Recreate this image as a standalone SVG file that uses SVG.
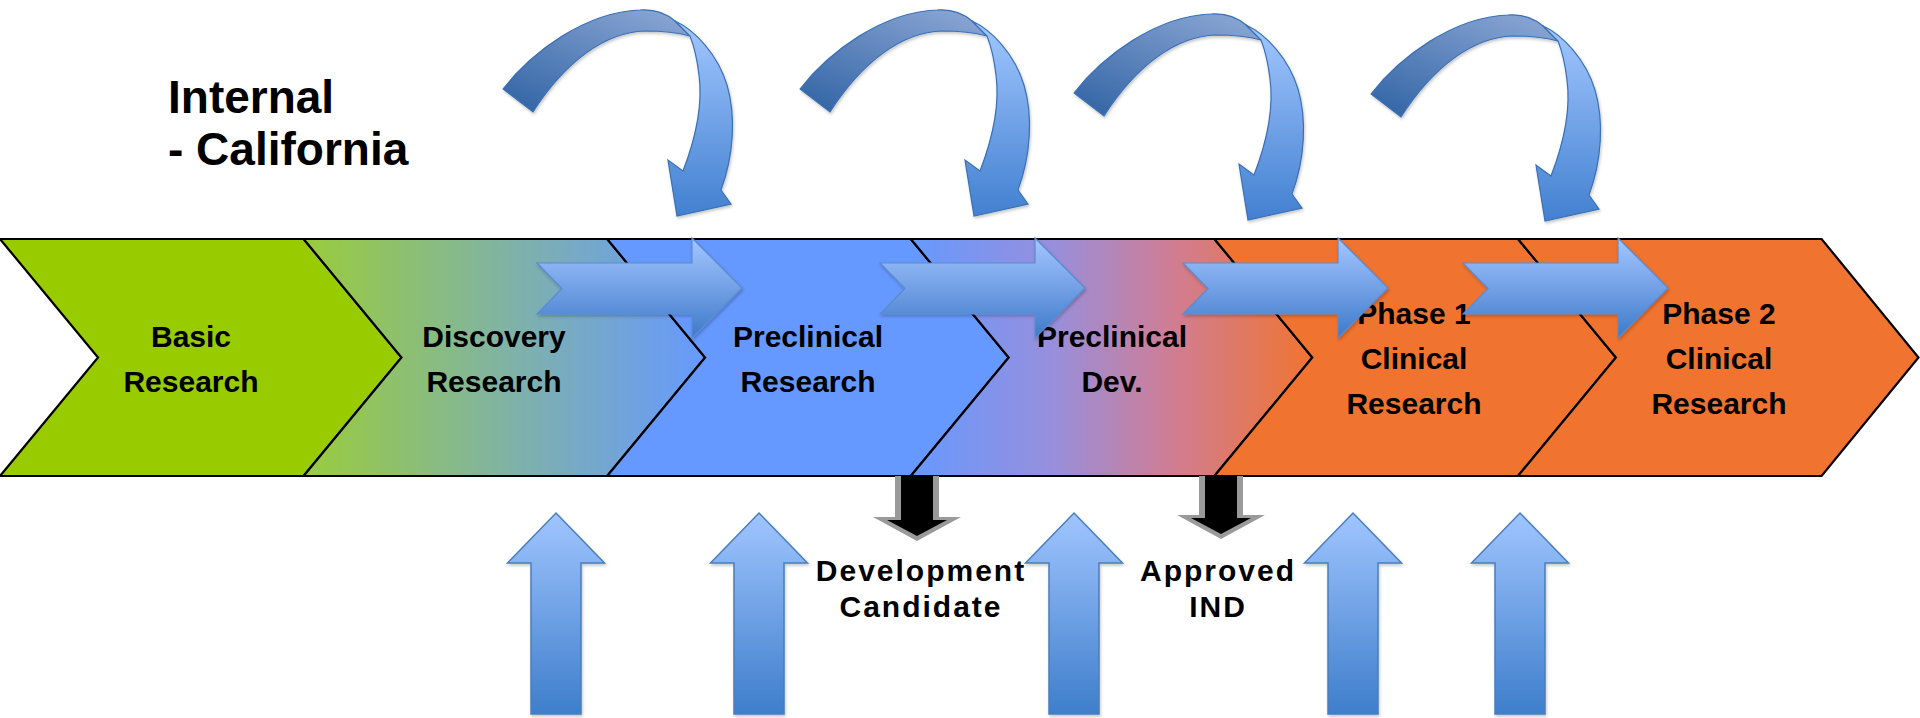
<svg xmlns="http://www.w3.org/2000/svg" xmlns:xlink="http://www.w3.org/1999/xlink" width="1920" height="718" viewBox="0 0 1920 718">
<style>
.chev{stroke:#000;stroke-width:2.2;stroke-linejoin:miter}
.lbl{font-family:"Liberation Sans",Arial,sans-serif;font-weight:bold;font-size:30px;fill:#000;text-anchor:middle}
.big{font-family:"Liberation Sans",Arial,sans-serif;font-weight:bold;font-size:46px;fill:#000}
.sub{font-family:"Liberation Sans",Arial,sans-serif;font-weight:bold;font-size:30px;fill:#000;text-anchor:middle;letter-spacing:2px}
.harrow{fill:url(#gH);stroke:#5a8bd2;stroke-width:1.2}
.uarrow{fill:url(#gU);stroke:#4a7ebb;stroke-width:1.5}
.cdark{fill:url(#gCD);stroke:#3b70b5;stroke-width:1.2}
.clight{fill:url(#gCL);stroke:#3b70b5;stroke-width:1.2}
</style>
<defs>
<linearGradient id="gDisc" gradientUnits="userSpaceOnUse" x1="303" y1="0" x2="706" y2="0">
<stop offset="0" stop-color="#9acc3c"/><stop offset="0.5" stop-color="#80b3a4"/><stop offset="1" stop-color="#6699ff"/>
</linearGradient>
<linearGradient id="gDev" gradientUnits="userSpaceOnUse" x1="910" y1="0" x2="1312" y2="0">
<stop offset="0" stop-color="#6699ff"/><stop offset="0.35" stop-color="#978fdd"/><stop offset="0.65" stop-color="#d07d94"/><stop offset="1" stop-color="#f07430"/>
</linearGradient>
<linearGradient id="gH" x1="0" y1="0" x2="0" y2="1">
<stop offset="0" stop-color="#a3c7ff"/><stop offset="0.5" stop-color="#73a0e6"/><stop offset="1" stop-color="#3c7ac8"/>
</linearGradient>
<linearGradient id="gU" x1="0" y1="0" x2="0" y2="1">
<stop offset="0" stop-color="#a0c5ff"/><stop offset="1" stop-color="#3e7ecb"/>
</linearGradient>
<linearGradient id="gCD" x1="0" y1="1" x2="0.8" y2="0">
<stop offset="0" stop-color="#2f62a3"/><stop offset="1" stop-color="#86a3d2"/>
</linearGradient>
<linearGradient id="gCL" x1="0" y1="0" x2="0" y2="1">
<stop offset="0" stop-color="#a2c7ff"/><stop offset="1" stop-color="#4280d0"/>
</linearGradient>
<filter id="sh" x="-20%" y="-20%" width="140%" height="140%">
<feDropShadow dx="1" dy="2" stdDeviation="1.5" flood-color="#000" flood-opacity="0.22"/>
</filter>
<g id="curve">
<path class="cdark" d="M503,89 C532,52 585,12 640,10 C655,9 667,14 675,21 L690,36 C675,32 660,31 645,31 C605,32 565,62 533,112 Z"/>
<path class="clight" d="M675,21 C695,30 718,55 727,85 C736,115 734,155 721,190 L731,204 L677,216 L668,160 L683,171 C695,140 703,105 699,75 C697,58 694,46 690,36 Z"/>
</g>
<path id="uparrow" class="uarrow" d="M-25,714 L-25,563 L-48.5,563 L0,513 L48.5,563 L25,563 L25,714 Z"/>
<path id="rarrow" class="harrow" d="M0,263 L155,263 L155,238 L205,288 L155,338 L155,314 L0,314 L25,288.5 Z"/>
</defs>

<g id="title">
<text class="big" x="168" y="113">Internal</text>
<text class="big" x="168" y="165">- California</text>
</g>

<g id="basic-research">
<path class="chev" fill="#99cc00" d="M0,239 L303.6,239 L401.5,357.5 L303.6,476 L0,476 L98,357.5 Z"/>
<text class="lbl" x="191" y="347">Basic</text>
<text class="lbl" x="191" y="392">Research</text>
</g>
<g id="discovery-research">
<path class="chev" fill="url(#gDisc)" d="M303.6,239 L607.2,239 L705.1,357.5 L607.2,476 L303.6,476 L401.5,357.5 Z"/>
<text class="lbl" x="494" y="347">Discovery</text>
<text class="lbl" x="494" y="392">Research</text>
</g>
<g id="preclinical-research">
<path class="chev" fill="#6699ff" d="M607.2,239 L910.8,239 L1008.7,357.5 L910.8,476 L607.2,476 L705.1,357.5 Z"/>
<text class="lbl" x="808" y="347">Preclinical</text>
<text class="lbl" x="808" y="392">Research</text>
</g>
<g id="preclinical-dev">
<path class="chev" fill="url(#gDev)" d="M910.8,239 L1214.4,239 L1312.3,357.5 L1214.4,476 L910.8,476 L1008.7,357.5 Z"/>
<text class="lbl" x="1112" y="347">Preclinical</text>
<text class="lbl" x="1112" y="392">Dev.</text>
</g>
<g id="phase1">
<path class="chev" fill="#f07430" d="M1214.4,239 L1518,239 L1615.9,357.5 L1518,476 L1214.4,476 L1312.3,357.5 Z"/>
<text class="lbl" x="1414" y="324">Phase 1</text>
<text class="lbl" x="1414" y="369">Clinical</text>
<text class="lbl" x="1414" y="414">Research</text>
</g>
<g id="phase2">
<path class="chev" fill="#f07430" d="M1518,239 L1821.6,239 L1918.5,357.5 L1821.6,476 L1518,476 L1615.9,357.5 Z"/>
<text class="lbl" x="1719" y="324">Phase 2</text>
<text class="lbl" x="1719" y="369">Clinical</text>
<text class="lbl" x="1719" y="414">Research</text>
</g>

<g id="connectors" filter="url(#sh)">
<use xlink:href="#rarrow" href="#rarrow" transform="translate(537,0)"/>
<use xlink:href="#rarrow" href="#rarrow" transform="translate(880,0)"/>
<use xlink:href="#rarrow" href="#rarrow" transform="translate(1183,0)"/>
<use xlink:href="#rarrow" href="#rarrow" transform="translate(1463,0)"/>
<use xlink:href="#curve" href="#curve"/>
<use xlink:href="#curve" href="#curve" transform="translate(297,0)"/>
<use xlink:href="#curve" href="#curve" transform="translate(571,4)"/>
<use xlink:href="#curve" href="#curve" transform="translate(868,5)"/>
</g>

<g id="milestone-development-candidate">
<path fill="#9a9a9a" d="M895,476 L939,476 L939,517 L961,517 L917,541 L873,517 L895,517 Z"/>
<path fill="#000" d="M901,476 L933,476 L933,520 L947,520 L917,536 L887,520 L901,520 Z"/>
<text class="sub" x="921" y="581">Development</text>
<text class="sub" x="921" y="617">Candidate</text>
</g>
<g id="milestone-approved-ind">
<path fill="#9a9a9a" d="M1199,476 L1243,476 L1243,515 L1265,515 L1221,539 L1177,515 L1199,515 Z"/>
<path fill="#000" d="M1205,476 L1237,476 L1237,518 L1251,518 L1221,534 L1191,518 L1205,518 Z"/>
<text class="sub" x="1218" y="581">Approved</text>
<text class="sub" x="1218" y="617">IND</text>
</g>

<g id="inputs" filter="url(#sh)">
<use xlink:href="#uparrow" href="#uparrow" transform="translate(556,0)"/>
<use xlink:href="#uparrow" href="#uparrow" transform="translate(759,0)"/>
<use xlink:href="#uparrow" href="#uparrow" transform="translate(1074,0)"/>
<use xlink:href="#uparrow" href="#uparrow" transform="translate(1353,0)"/>
<use xlink:href="#uparrow" href="#uparrow" transform="translate(1520,0)"/>
</g>
</svg>
